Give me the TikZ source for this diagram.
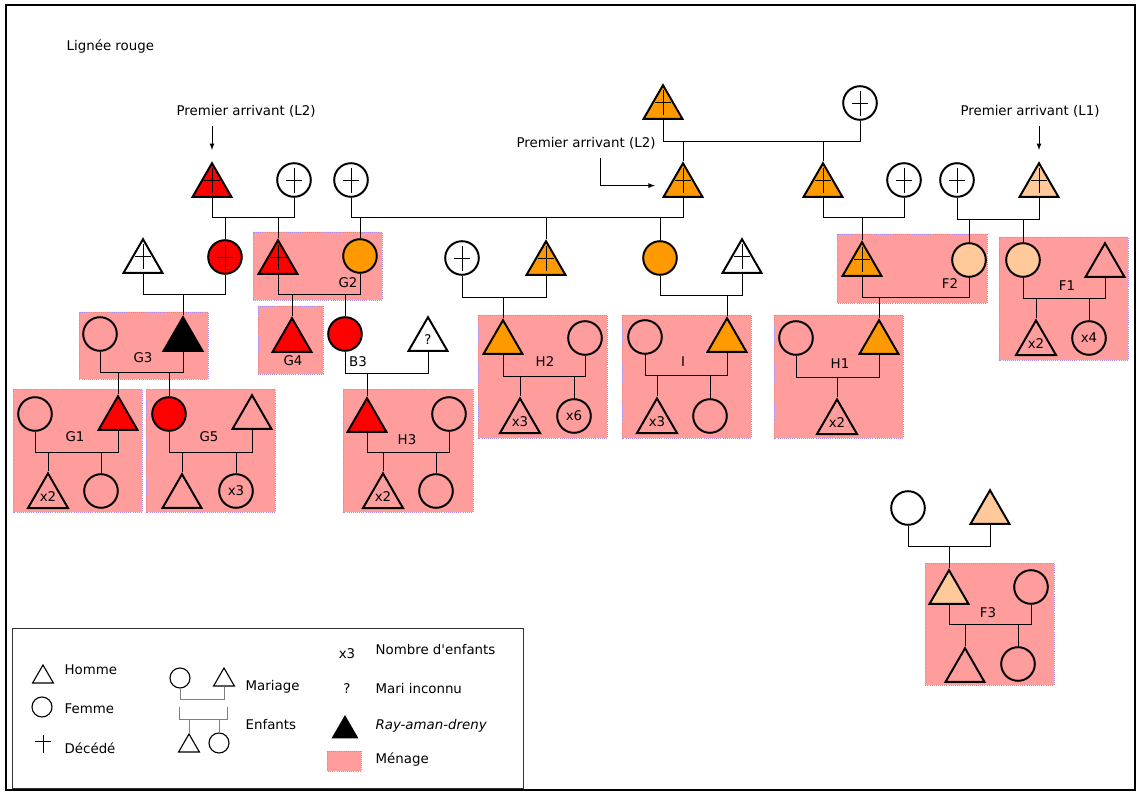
\documentclass[tikz,border=0pt]{standalone}
\usepackage{fontspec}
\setmainfont{DejaVu Sans}
\usetikzlibrary{shapes.geometric}

\definecolor{rouge}{RGB}{255,0,0}
\definecolor{orangeL}{RGB}{255,153,0}
\definecolor{peche}{RGB}{255,201,153}
\definecolor{rose}{RGB}{255,157,157}
\definecolor{bordrose}{RGB}{175,140,225}

\tikzset{
  triangle/.style={regular polygon, regular polygon sides=3, draw, inner sep=0pt},
  homme/.style={triangle, line width=1.4pt, minimum size=1.12cm, yshift=-0.14cm},
  femme/.style={circle, draw, line width=1.4pt, minimum size=0.84cm, inner sep=0pt},
  petithomme/.style={triangle, line width=0.8pt, minimum size=0.6cm, yshift=-0.075cm},
  petitefemme/.style={circle, draw, line width=0.8pt, minimum size=0.5cm, inner sep=0pt},
  decede/.style={path picture={
      \draw[line width=0.6pt] ([yshift=0.31cm]path picture bounding box.center) -- ([yshift=-0.33cm]path picture bounding box.center);
      \draw[line width=0.6pt] ([xshift=-0.2cm]path picture bounding box.center) -- ([xshift=0.2cm]path picture bounding box.center);}},
  lien/.style={line width=0.7pt},
  lgris/.style={line width=0.7pt, gray},
  menage/.style={fill=rose, draw=bordrose, densely dotted, line width=0.5pt},
  nom/.style={inner sep=1pt},
  texte/.style={anchor=west, inner sep=1pt},
  fleche/.style={-latex, line width=0.6pt}
}

\begin{document}
\begin{tikzpicture}[x=0.025cm, y=-0.025cm, font=\fontsize{9.5}{11}\selectfont]
    \useasboundingbox (0,0) rectangle (1140,794);
    \draw[line width=1.4pt] (6,5) rectangle (1135,790);

    \node[texte] (titre) at (65,47) {Lignée rouge};

    \draw[menage] (253,232) rectangle (382,300) (837,234) rectangle (987,303)
        (999,237) rectangle (1128,360) (79,312) rectangle (208,379)
        (258,306) rectangle (323,374) (478,315) rectangle (607,438)
        (622,315) rectangle (751,438) (774,315) rectangle (903,438)
        (13,389) rectangle (142,512) (146,389) rectangle (275,512)
        (343,389) rectangle (473,512) (925,563) rectangle (1054,685);

    \node[homme, fill=rouge, decede] (pa1) at (212,180) {};
    \node[femme, decede] (ma1) at (294,180) {};
    \node[femme, decede] (ma2) at (351,180) {};
    \node[homme, fill=orangeL, decede] (oa) at (663,102) {};
    \node[femme, decede] (ob) at (860,103) {};
    \node[homme, fill=orangeL, decede] (oc) at (683,180) {};
    \node[homme, fill=orangeL, decede] (od) at (823,180) {};
    \node[femme, decede] (oe) at (904,180) {};
    \node[femme, decede] (pf) at (957,180) {};
    \node[homme, fill=peche, decede] (pg) at (1039,180) {};

    \node (txa) at (246,111) {Premier arrivant (L2)};
    \node (txb) at (586,143) {Premier arrivant (L2)};
    \node (txc) at (1030,111) {Premier arrivant (L1)};
    \draw[fleche] ([yshift=-3pt]pa1.north |- txa.south) -- ([yshift=8pt]pa1.north);
    \draw[fleche] ([xshift=10pt,yshift=-3pt]txb.south) |- ([xshift=-10pt]oc.west);
    \draw[fleche] ([yshift=-3pt]pg.north |- txc.south) -- ([yshift=8pt]pg.north);

    \node[homme, decede] (wt1) at (143,256) {};
    \node[femme, fill=rouge, decede] (c1) at (225,257) {};
    \node[homme, fill=rouge, decede] (g2h) at (278,257) {};
    \node[femme, fill=orangeL] (g2f) at (360,256) {};
    \node[femme, decede] (wc2) at (462,258) {};
    \node[homme, fill=orangeL, decede] (h2h) at (546,258) {};
    \node[femme, fill=orangeL] (if1) at (660,258) {};
    \node[homme, decede] (wt2) at (742,256) {};
    \node[homme, fill=orangeL, decede] (f2h) at (862,259) {};
    \node[femme, fill=peche] (f2f) at (969,260) {};
    \node[femme, fill=peche] (f1f) at (1023,260) {};
    \node[homme] (f1h) at (1105,260) {};

    \node[femme] (g3f) at (100,334) {};
    \node[homme, fill=black] (g3h) at (183,334) {};
    \node[homme, fill=rouge] (g4h) at (292,335) {};
    \node[femme, fill=rouge] (b3f) at (345,334) {};
    \node[homme] (b3h) at (428,334) {?};
    \node[homme, fill=orangeL] (h2t) at (503,337) {};
    \node[femme] (h2f) at (585,338) {};
    \node[femme] (if2) at (645,337) {};
    \node[homme, fill=orangeL] (it) at (727,335) {};
    \node[femme] (h1f) at (796,338) {};
    \node[homme, fill=orangeL] (h1t) at (879,337) {};
    \node[homme] (f1c1) at (1036,338) {x2};
    \node[femme] (f1c2) at (1089,338) {x4};

    \node[homme] (h2c1) at (520,416) {x3};
    \node[femme] (h2c2) at (574,416) {x6};
    \node[homme] (ic1) at (657,416) {x3};
    \node[femme] (ic2) at (710,416) {};
    \node[homme] (h1c) at (837,417) {x2};

    \node[femme] (g1f) at (35,414) {};
    \node[homme, fill=rouge] (g1h) at (118,413) {};
    \node[femme, fill=rouge] (g5f) at (169,414) {};
    \node[homme] (g5h) at (252,412) {};
    \node[homme, fill=rouge] (h3h) at (367,415) {};
    \node[femme] (h3f) at (449,414) {};
    \node[homme] (g1c1) at (48,491) {x2};
    \node[femme] (g1c2) at (101,491) {};
    \node[homme] (g5c1) at (182,491) {};
    \node[femme] (g5c2) at (236,491) {x3};
    \node[homme] (h3c1) at (383,491) {x2};
    \node[femme] (h3c2) at (436,491) {};

    \node[femme] (f3a) at (908,508) {};
    \node[homme, fill=peche] (f3b) at (990,507) {};
    \node[homme, fill=peche] (f3h) at (949,587) {};
    \node[femme] (f3f) at (1031,587) {};
    \node[homme] (f3c1) at (965,665) {};
    \node[femme] (f3c2) at (1018,664) {};

    \node[nom] (lg2) at (348,283) {G2};
    \node[nom] (lf2) at (950,284) {F2};
    \node[nom] (lf1) at (1067,286) {F1};
    \node[nom] (lg3) at (143,358) {G3};
    \node[nom] (lg4) at (293,361) {G4};
    \node[nom] (lb3) at (358,362) {B3};
    \node[nom] (lh2) at (545,362) {H2};
    \node[nom] (li) at (683,362) {I};
    \node[nom] (lh1) at (840,364) {H1};
    \node[nom] (lg1) at (75,437) {G1};
    \node[nom] (lg5) at (209,437) {G5};
    \node[nom] (lh3) at (407,440) {H3};
    \node[nom] (lf3) at (988,613) {F3};

    \draw[lien] (pa1.south) -- (pa1.south |- 0,217) -| (ma1.south);
    \draw[lien] (ma2.south) -- (ma2.south |- 0,217) -| (oc.south);
    \draw[lien] (oa.south) -- (oa.south |- 0,141) -| (ob.south);
    \draw[lien] (od.south) -- (od.south |- 0,217) -| (oe.south);
    \draw[lien] (pf.south) -- (pf.south |- 0,219) -| (pg.south);
    \draw[lien] (wt1.south) -- (wt1.south |- 0,294) -| (c1.south);
    \draw[lien] (g2h.south) -- (g2h.south |- 0,294) -| (g2f.south);
    \draw[lien] (wc2.south) -- (wc2.south |- 0,297) -| (h2h.south);
    \draw[lien] (if1.south) -- (if1.south |- 0,295) -| (wt2.south);
    \draw[lien] (f2h.south) -- (f2h.south |- 0,297) -| (f2f.south);
    \draw[lien] (f1f.south) -- (f1f.south |- 0,298) -| (f1h.south);
    \draw[lien] (g3f.south) -- (g3f.south |- 0,372) -| (g3h.south);
    \draw[lien] (b3f.south) -- (b3f.south |- 0,373) -| (b3h.south);
    \draw[lien] (h2t.south) -- (h2t.south |- 0,376) -| (h2f.south);
    \draw[lien] (if2.south) -- (if2.south |- 0,375) -| (it.south);
    \draw[lien] (h1f.south) -- (h1f.south |- 0,377) -| (h1t.south);
    \draw[lien] (g1f.south) -- (g1f.south |- 0,452) -| (g1h.south);
    \draw[lien] (g5f.south) -- (g5f.south |- 0,452) -| (g5h.south);
    \draw[lien] (h3h.south) -- (h3h.south |- 0,452) -| (h3f.south);
    \draw[lien] (f3a.south) -- (f3a.south |- 0,546) -| (f3b.south);
    \draw[lien] (f3h.south) -- (f3h.south |- 0,624) -| (f3f.south);

    \foreach \n/\y in {c1/217, g2h/217, g2f/217, h2h/217, if1/217, oc/141, od/141,
        f2h/217, f2f/219, f1f/219, g3h/294, g4h/294, b3f/294, h2t/297, it/295,
        h1t/297, f1c1/298, f1c2/298, g1h/372, g5f/372, h3h/373, h2c1/376,
        h2c2/376, ic1/375, ic2/375, h1c/377, g1c1/452, g1c2/452, g5c1/452,
        g5c2/452, h3c1/452, h3c2/452, f3h/546, f3c1/624, f3c2/624}
        \draw[lien] (\n.north |- 0,\y) -- (\n.north);

    \draw[line width=0.7pt, black!80] (12,628) rectangle (523,788);
    \node[petithomme] (lh) at (43,674) {};
    \node[texte] (lth) at (63,670) {Homme};
    \node[petitefemme] (lf) at (42,707) {};
    \node[texte] (ltf) at (63,709) {Femme};
    \draw[line width=0.7pt] (43,735) -- (43,753) (35,741) -- (51,741);
    \node[texte] (ltd) at (63,748) {Décédé};
    \node[petitefemme] (lmf) at (180,678) {};
    \node[petithomme] (lmh) at (224,677) {};
    \draw[lgris] (lmf.south) -- (lmf.south |- 0,699) -| (lmh.south);
    \node[texte] (ltm) at (244,687) {Mariage};
    \coordinate (le1) at (179,707);
    \coordinate (le2) at (227,707);
    \draw[lgris] (le1) -- (le1 |- 0,719) -| (le2);
    \node[petithomme] (lec1) at (189,743) {};
    \node[petitefemme] (lec2) at (219,743) {};
    \draw[lgris] (lec1.north |- 0,719) -- (lec1.north);
    \draw[lgris] (lec2.north |- 0,719) -- (lec2.north);
    \node[texte] (lte) at (244,725) {Enfants};
    \node (lx3) at (347,654) {x3};
    \node[texte] (ltn) at (374,650) {Nombre d\textquotesingle enfants};
    \node (lq) at (347,689) {?};
    \node[texte] (ltq) at (374,689) {Mari inconnu};
    \node[triangle, fill=black, line width=0.8pt, minimum size=0.72cm, yshift=-0.09cm] (lr) at (345,727) {};
    \node[texte] (ltr) at (374,726) {\textit{Ray-aman-dreny}};
    \draw[menage] (327,751) rectangle (361,771);
    \node[texte] (ltme) at (374,760) {Ménage};
\end{tikzpicture}
\end{document}
